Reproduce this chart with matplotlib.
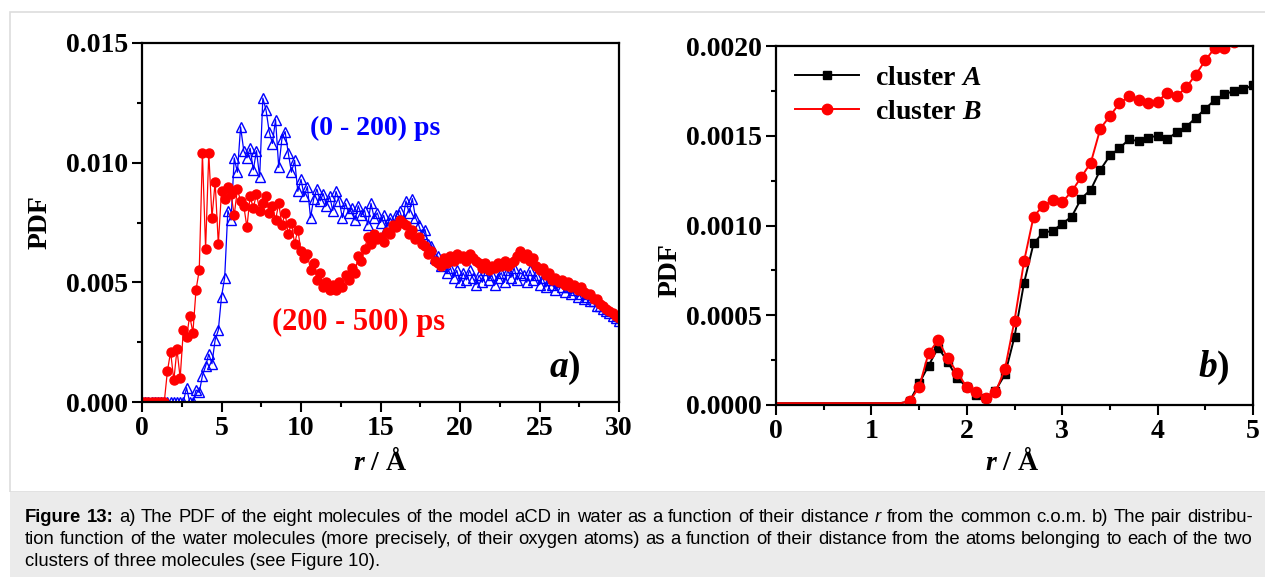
# -*- coding: utf-8 -*-
import numpy as np
import matplotlib
matplotlib.use("Agg")
import matplotlib.pyplot as plt
from matplotlib.ticker import MultipleLocator, FormatStrFormatter
from matplotlib.patches import Rectangle

plt.rcParams['font.family'] = ['Liberation Serif', 'DejaVu Serif']
plt.rcParams['font.weight'] = 'bold'
plt.rcParams['mathtext.fontset'] = 'custom'
plt.rcParams['mathtext.it'] = 'Liberation Serif:bold:italic'
plt.rcParams['mathtext.rm'] = 'Liberation Serif:bold'

# ---- panel a) : PDF of the eight molecules, r from 0 to 30 A, step 0.2 ----
r_a = np.round(np.arange(0, 30.01, 0.2), 1)

# (200 - 500) ps, in units of 1e-3
pdf_late = [0, 0, 0, 0, 0, 0, 0, 0, 1.3, 2.1,
            0.9, 2.2, 1.0, 3.0, 2.7, 3.6, 2.9, 4.7, 5.5, 10.4,
            6.4, 10.4, 7.7, 9.2, 6.6, 8.8, 8.5, 9.0, 8.7, 7.8,
            8.9, 8.4, 8.2, 7.3, 8.6, 8.1, 8.7, 8.0, 8.3, 8.6,
            7.9, 8.2, 7.6, 8.3, 7.4, 7.9, 7.0, 7.5, 6.6, 7.2,
            6.3, 6.0, 6.2, 5.5, 5.8, 5.1, 5.4, 4.8, 5.0, 4.7,
            4.9, 4.7, 5.0, 4.8, 5.3, 5.1, 5.6, 5.4, 6.1, 5.9,
            6.4, 6.9, 6.6, 7.0, 6.8, 6.9, 6.7, 7.1, 7.0, 7.4,
            7.3, 7.6, 7.5, 7.4, 7.0, 7.2, 6.8, 6.9, 6.6, 6.5,
            6.2, 6.3, 5.9, 5.8, 5.7, 6.0, 5.8, 6.1, 5.9, 6.2,
            6.0, 6.1, 5.9, 6.2, 6.0, 5.9, 5.8, 5.6, 5.8, 5.5,
            5.7, 5.6, 5.8, 5.7, 5.9, 5.7, 5.8, 5.9, 6.1, 6.3,
            6.0, 6.2, 5.9, 6.0, 5.7, 5.5, 5.6, 5.3, 5.4, 5.1,
            5.2, 5.0, 5.1, 4.9, 5.0, 4.8, 4.9, 4.7, 4.8, 4.6,
            4.5, 4.5, 4.3, 4.3, 4.1, 4.0, 3.9, 3.8, 3.7, 3.6,
            3.5]

# (0 - 200) ps, in units of 1e-3
pdf_early = [0, 0, 0, 0, 0, 0, 0, 0, 0, 0,
             0, 0, 0, 0, 0.6, 0, 0, 0.5, 0.4, 1.1,
             1.5, 2.0, 1.6, 2.6, 3.0, 4.4, 5.2, 8.0, 7.6, 10.2,
             9.6, 11.5, 10.5, 10.2, 10.6, 9.7, 10.5, 9.4, 12.7, 12.2,
             11.3, 10.8, 11.8, 9.8, 11.0, 11.3, 10.4, 9.6, 10.1, 8.8,
             9.3, 8.6, 9.0, 7.7, 8.5, 8.9, 8.4, 8.7, 8.2, 8.6,
             8.0, 8.8, 8.4, 7.7, 8.3, 7.9, 8.1, 7.6, 8.2, 7.8,
             8.0, 7.4, 8.3, 7.7, 7.9, 7.5, 7.8, 7.3, 7.7, 7.4,
             7.8, 8.0, 7.6, 8.4, 7.9, 8.5, 7.7, 7.4, 7.0, 7.2,
             6.6, 6.5, 6.0, 6.1, 5.7, 5.9, 5.4, 5.6, 5.2, 5.5,
             5.0, 5.4, 5.1, 5.5, 5.2, 4.9, 5.3, 5.0, 5.5, 5.1,
             5.3, 4.9, 5.2, 5.4, 5.0, 5.5, 5.2, 5.6, 5.1, 5.4,
             5.3, 5.0, 5.5, 5.1, 5.3, 4.9, 5.2, 4.8, 5.1, 4.9,
             4.7, 5.0, 4.8, 4.6, 4.8, 4.5, 4.7, 4.4, 4.5, 4.3,
             4.4, 4.2, 4.2, 4.0, 4.0, 3.9, 3.8, 3.7, 3.6, 3.5,
             3.4]

# ---- panel b) : pair distribution of water oxygens, r 0 to 5 A, step 0.1 ----
r_b = np.round(np.arange(0, 5.01, 0.1), 1)

clusterA = [0.01, 0.01, 0.01, 0.01, 0.01, 0.01, 0.01, 0.01, 0.01, 0.01,
            0.01, 0.01, 0.01, 0.01, 0.02, 0.12, 0.22, 0.32, 0.24, 0.15,
            0.10, 0.056, 0.04, 0.08, 0.17, 0.38, 0.68, 0.90, 0.96, 0.97,
            1.01, 1.05, 1.15, 1.20, 1.31, 1.39, 1.43, 1.48, 1.47, 1.49,
            1.50, 1.48, 1.52, 1.55, 1.60, 1.65, 1.70, 1.73, 1.75, 1.76,
            1.78]
clusterB = [0.01, 0.01, 0.01, 0.01, 0.01, 0.01, 0.01, 0.01, 0.01, 0.01,
            0.01, 0.01, 0.01, 0.01, 0.02, 0.10, 0.29, 0.36, 0.26, 0.18,
            0.10, 0.07, 0.04, 0.07, 0.20, 0.47, 0.80, 1.05, 1.11, 1.14,
            1.13, 1.19, 1.27, 1.35, 1.54, 1.61, 1.68, 1.72, 1.70, 1.68,
            1.69, 1.74, 1.72, 1.77, 1.84, 1.92, 1.99, 1.99, 2.02, 2.04,
            2.06]

# caption, word by word: (text, weight, style); lines 1 and 2 are justified
caption_line1 = [("Figure", 'bold', 'normal'), ("13:", 'bold', 'normal')] + \
    [(w, 'normal', 'normal') for w in
     "a) The PDF of the eight molecules of the model aCD in water as a function of their distance".split()] + \
    [("r", 'normal', 'italic')] + \
    [(w, 'normal', 'normal') for w in "from the common c.o.m. b) The pair distribu-".split()]
caption_line2 = [(w, 'normal', 'normal') for w in
                 ("tion function of the water molecules (more precisely, of their oxygen atoms) as a "
                  "function of their distance from the atoms belonging to each of the two").split()]
caption_line3 = "clusters of three molecules (see Figure 10)."

fig = plt.figure(figsize=(12.65, 5.77), dpi=100)

# frame and caption box
fig.patches.append(Rectangle((10 / 1265, 85 / 577), 1.0, 1 - 97 / 577, transform=fig.transFigure,
                             facecolor='none', edgecolor='#dddddd', lw=1.2, zorder=0))
fig.patches.append(Rectangle((10 / 1265, 0), 1.0, 85 / 577, transform=fig.transFigure,
                             facecolor='#ebebeb', edgecolor='none', zorder=0))


def style_axes(ax):
    for s in ax.spines.values():
        s.set_linewidth(1.6)
    ax.tick_params(which='major', direction='out', length=7, width=1.5, labelsize=20, pad=3,
                   top=False, right=False)
    ax.tick_params(which='minor', direction='out', length=3.5, width=1.5, top=False, right=False)
    for lab in ax.get_xticklabels() + ax.get_yticklabels():
        lab.set_fontweight('bold')


# ---- a) ----
axa = fig.add_axes([142 / 1265, 175 / 577, 477 / 1265, 359 / 577])
axa.plot(r_a, np.array(pdf_early) * 1e-3, color='#0000ff', lw=0.9, marker='^', ms=6.5,
         mfc='none', mec='#0000ff', mew=1.0)
axa.plot(r_a, np.array(pdf_late) * 1e-3, color='#ff0000', lw=0.9, marker='o', ms=6.5,
         mfc='#ff0000', mec='#ff0000')
axa.set_xlim(0, 30)
axa.set_ylim(0, 0.015)
axa.xaxis.set_major_locator(MultipleLocator(5))
axa.xaxis.set_minor_locator(MultipleLocator(2.5))
axa.yaxis.set_major_locator(MultipleLocator(0.005))
axa.yaxis.set_minor_locator(MultipleLocator(0.0025))
axa.yaxis.set_major_formatter(FormatStrFormatter('%.3f'))
style_axes(axa)
axa.text(14.65, 0.01145, "(0 - 200) ps", color='#0000ff', fontsize=20, fontweight='bold',
         ha='center', va='center')
axa.text(13.65, 0.00334, "(200 - 500) ps", color='#ff0000', fontsize=22, fontweight='bold',
         ha='center', va='center')
axa.text(26.6, 0.00142, r"$\mathit{a}$)", fontsize=27, ha='center', va='center')

# ---- b) ----
axb = fig.add_axes([776 / 1265, 172 / 577, 477 / 1265, 359 / 577])
show = list(range(14, len(r_b)))
axb.plot(r_b, np.array(clusterA) * 1e-3, color='black', lw=1.4, marker='s', ms=6,
         markevery=show, label=r"cluster $\mathit{A}$")
axb.plot(r_b, np.array(clusterB) * 1e-3, color='#ff0000', lw=1.4, marker='o', ms=7.5,
         markevery=show, label=r"cluster $\mathit{B}$")
axb.set_xlim(0, 5)
axb.set_ylim(0, 0.002)
axb.xaxis.set_major_locator(MultipleLocator(1))
axb.xaxis.set_minor_locator(MultipleLocator(0.5))
axb.yaxis.set_major_locator(MultipleLocator(0.0005))
axb.yaxis.set_minor_locator(MultipleLocator(0.00025))
axb.yaxis.set_major_formatter(FormatStrFormatter('%.4f'))
style_axes(axb)
axb.text(4.59, 0.000206, r"$\mathit{b}$)", fontsize=27, ha='center', va='center')
axb.legend(loc='upper left', frameon=False, handlelength=2.3, handletextpad=0.55,
           labelspacing=0.3, borderaxespad=0.3, bbox_to_anchor=(0.0, 1.0),
           prop={'weight': 'bold', 'size': 20})

# axis labels
fig.text(40 / 1265, 1 - 222 / 577, "PDF", rotation=90, fontsize=20, fontweight='bold',
         ha='center', va='center')
fig.text(670 / 1265, 1 - 270 / 577, "PDF", rotation=90, fontsize=20, fontweight='bold',
         ha='center', va='center')
fig.text(380 / 1265, 1 - 462 / 577, r"$\mathit{r}$ / Å", fontsize=20, fontweight='bold',
         ha='center', va='center')
fig.text(1012 / 1265, 1 - 462 / 577, r"$\mathit{r}$ / Å", fontsize=20, fontweight='bold',
         ha='center', va='center')

# caption text
cap_font = ['Liberation Sans', 'DejaVu Sans']
cap_size = 13.3
renderer = fig.canvas.get_renderer()


def justified_line(words, y_px, x0=25, x1=1253):
    texts = [fig.text(0, 1 - y_px / 577, w, family=cap_font, fontsize=cap_size, fontweight=wt,
                      style=st, va='center', ha='left') for w, wt, st in words]
    widths = [t.get_window_extent(renderer).width for t in texts]
    gap = (x1 - x0 - sum(widths)) / (len(texts) - 1)
    x = x0
    for t, w in zip(texts, widths):
        t.set_x(x / 1265)
        x += w + gap


justified_line(caption_line1, 518)
justified_line(caption_line2, 540)
fig.text(25 / 1265, 1 - 562 / 577, caption_line3, family=cap_font, fontsize=cap_size,
         fontweight='normal', va='center', ha='left')

fig.savefig("out.png", dpi=100)
